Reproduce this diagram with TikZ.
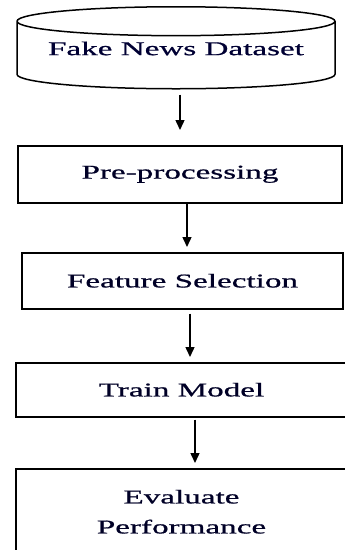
\documentclass[tikz,border=0pt]{standalone}
\usepackage{fontspec}
\newfontfamily\stepfont[FakeStretch=1.7,FakeBold=0.8]{Liberation Serif}
\usetikzlibrary{positioning,shapes.geometric,arrows.meta}
\tikzset{
  stage/.style={draw, line width=1.5pt, rectangle, minimum width=324pt,
    minimum height=57pt, align=center, text=black!85!blue,
    font=\stepfont\fontsize{19.5}{30}\selectfont},
  dataset/.style={draw, line width=1.5pt, cylinder, shape border rotate=90,
    aspect=0.113, minimum width=318pt, minimum height=82pt, inner sep=0pt,
    text depth=14pt, text=black!80!blue, font=\stepfont\fontsize{19.5}{30}\selectfont},
  flow/.style={line width=1.4pt, -{Triangle[width=9pt,length=10pt]}}
}
\begin{document}
\begin{tikzpicture}[x=1pt,y=1pt]
  \useasboundingbox (0,0) rectangle (345,-550);
  % Define nodes
  \node[dataset, anchor=north] (data) at (176,-6) {Fake News Dataset};
  \node[stage, below=55.5pt of data, xshift=4pt] (prep) {Pre-processing};
  \node[stage, below=48.5pt of prep, xshift=2.5pt, minimum width=321pt, minimum height=56pt] (feat) {Feature Selection};
  \node[stage, below=52.5pt of feat, xshift=-1pt, minimum width=331pt, minimum height=54pt] (train) {Train Model};
  \node[stage, below=50.5pt of train, minimum width=331pt, minimum height=86pt] (eval) {Evaluate\\Performance};
  % Connect the nodes
  \draw[flow, shorten <=5pt, shorten >=15pt] ([xshift=4pt]data.south) -- (prep.north);
  \draw[flow, shorten >=5pt] ([xshift=7pt]prep.south) -- ([xshift=4.5pt]feat.north);
  \draw[flow, shorten <=4pt, shorten >=5pt] ([xshift=7.5pt]feat.south) -- ([xshift=8.5pt]train.north);
  \draw[flow, shorten <=2pt, shorten >=5pt] ([xshift=13.5pt]train.south) -- ([xshift=13.5pt]eval.north);
\end{tikzpicture}
\end{document}
